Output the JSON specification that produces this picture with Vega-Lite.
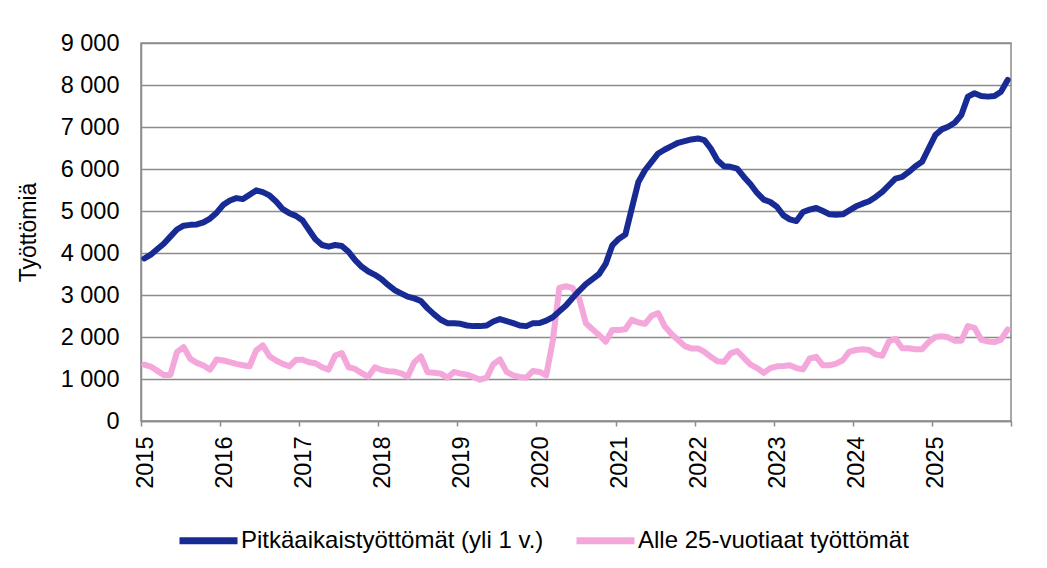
{
  "$schema": "https://vega.github.io/schema/vega-lite/v6.json",
  "width": 870,
  "height": 378,
  "autosize": {"type": "none"},
  "padding": {"left": 141, "top": 43, "right": 36, "bottom": 147},
  "background": "white",
  "config": {
    "font": "Liberation Sans",
    "locale": {"number": {"decimal": ",", "thousands": " ", "grouping": [3], "currency": ["", " €"]}},
    "view": {"stroke": "#8c8c8c", "strokeWidth": 1.5},
    "axisY": {
      "ticks": false,
      "domainColor": "#8c8c8c", "domainWidth": 1.5,
      "grid": true, "gridColor": "#8c8c8c", "gridWidth": 1.5,
      "labelFontSize": 23.5, "labelColor": "black", "labelPadding": 22,
      "titleFontSize": 23, "titleFontWeight": "normal", "titleColor": "black", "titlePadding": 20
    },
    "axisX": {
      "grid": false,
      "ticks": true,
      "tickSize": 5,
      "tickColor": "#8c8c8c",
      "tickWidth": 1.5,
      "domainColor": "#8c8c8c",
      "domainWidth": 1.5,
      "labelAngle": -90,
      "labelFontSize": 23.5,
      "labelColor": "black",
      "labelPadding": 10,
      "labelOffset": 4,
      "labelFlush": false,
      "labelOverlap": false
    },
    "legend": {
      "labelFontSize": 24, "labelColor": "black", "labelLimit": 0, "labelOffset": 0, "columnPadding": 18, "padding": 0,
      "symbolType": "stroke", "symbolSize": 3364, "symbolStrokeWidth": 7
    }
  },
  "data": {"values": [
    {"kk":"2015-01","pitka":3870,"alle25":1344},{"kk":"2015-02","pitka":3960,"alle25":1296},{"kk":"2015-03","pitka":4090,"alle25":1200},{"kk":"2015-04","pitka":4220,"alle25":1096},{"kk":"2015-05","pitka":4390,"alle25":1096},{"kk":"2015-06","pitka":4560,"alle25":1640},{"kk":"2015-07","pitka":4650,"alle25":1760},{"kk":"2015-08","pitka":4670,"alle25":1480},{"kk":"2015-09","pitka":4680,"alle25":1384},{"kk":"2015-10","pitka":4730,"alle25":1320},{"kk":"2015-11","pitka":4820,"alle25":1224},{"kk":"2015-12","pitka":4960,"alle25":1464},
    {"kk":"2016-01","pitka":5148,"alle25":1440},{"kk":"2016-02","pitka":5251,"alle25":1400},{"kk":"2016-03","pitka":5307,"alle25":1360},{"kk":"2016-04","pitka":5283,"alle25":1328},{"kk":"2016-05","pitka":5387,"alle25":1304},{"kk":"2016-06","pitka":5491,"alle25":1680},{"kk":"2016-07","pitka":5450,"alle25":1800},{"kk":"2016-08","pitka":5371,"alle25":1544},{"kk":"2016-09","pitka":5227,"alle25":1440},{"kk":"2016-10","pitka":5044,"alle25":1360},{"kk":"2016-11","pitka":4948,"alle25":1304},{"kk":"2016-12","pitka":4884,"alle25":1456},
    {"kk":"2017-01","pitka":4772,"alle25":1456},{"kk":"2017-02","pitka":4549,"alle25":1400},{"kk":"2017-03","pitka":4326,"alle25":1376},{"kk":"2017-04","pitka":4190,"alle25":1280},{"kk":"2017-05","pitka":4150,"alle25":1224},{"kk":"2017-06","pitka":4190,"alle25":1560},{"kk":"2017-07","pitka":4166,"alle25":1616},{"kk":"2017-08","pitka":4030,"alle25":1280},{"kk":"2017-09","pitka":3831,"alle25":1240},{"kk":"2017-10","pitka":3671,"alle25":1136},{"kk":"2017-11","pitka":3560,"alle25":1056},{"kk":"2017-12","pitka":3480,"alle25":1280},
    {"kk":"2018-01","pitka":3376,"alle25":1216},{"kk":"2018-02","pitka":3240,"alle25":1184},{"kk":"2018-03","pitka":3120,"alle25":1176},{"kk":"2018-04","pitka":3040,"alle25":1136},{"kk":"2018-05","pitka":2960,"alle25":1056},{"kk":"2018-06","pitka":2920,"alle25":1400},{"kk":"2018-07","pitka":2857,"alle25":1536},{"kk":"2018-08","pitka":2682,"alle25":1160},{"kk":"2018-09","pitka":2538,"alle25":1150},{"kk":"2018-10","pitka":2410,"alle25":1128},{"kk":"2018-11","pitka":2330,"alle25":1032},{"kk":"2018-12","pitka":2330,"alle25":1168},
    {"kk":"2019-01","pitka":2314,"alle25":1128},{"kk":"2019-02","pitka":2274,"alle25":1104},{"kk":"2019-03","pitka":2259,"alle25":1048},{"kk":"2019-04","pitka":2259,"alle25":984},{"kk":"2019-05","pitka":2274,"alle25":1032},{"kk":"2019-06","pitka":2370,"alle25":1352},{"kk":"2019-07","pitka":2426,"alle25":1464},{"kk":"2019-08","pitka":2378,"alle25":1168},{"kk":"2019-09","pitka":2330,"alle25":1088},{"kk":"2019-10","pitka":2274,"alle25":1048},{"kk":"2019-11","pitka":2259,"alle25":1032},{"kk":"2019-12","pitka":2330,"alle25":1192},
    {"kk":"2020-01","pitka":2333,"alle25":1168},{"kk":"2020-02","pitka":2390,"alle25":1088},{"kk":"2020-03","pitka":2470,"alle25":1900},{"kk":"2020-04","pitka":2610,"alle25":3168},{"kk":"2020-05","pitka":2750,"alle25":3208},{"kk":"2020-06","pitka":2930,"alle25":3168},{"kk":"2020-07","pitka":3100,"alle25":2928},{"kk":"2020-08","pitka":3260,"alle25":2328},{"kk":"2020-09","pitka":3380,"alle25":2184},{"kk":"2020-10","pitka":3500,"alle25":2048},{"kk":"2020-11","pitka":3740,"alle25":1888},{"kk":"2020-12","pitka":4180,"alle25":2168},
    {"kk":"2021-01","pitka":4340,"alle25":2168},{"kk":"2021-02","pitka":4440,"alle25":2184},{"kk":"2021-03","pitka":5060,"alle25":2408},{"kk":"2021-04","pitka":5690,"alle25":2344},{"kk":"2021-05","pitka":5970,"alle25":2312},{"kk":"2021-06","pitka":6170,"alle25":2504},{"kk":"2021-07","pitka":6370,"alle25":2568},{"kk":"2021-08","pitka":6465,"alle25":2248},{"kk":"2021-09","pitka":6545,"alle25":2072},{"kk":"2021-10","pitka":6624,"alle25":1928},{"kk":"2021-11","pitka":6664,"alle25":1784},{"kk":"2021-12","pitka":6704,"alle25":1728},
    {"kk":"2022-01","pitka":6728,"alle25":1728},{"kk":"2022-02","pitka":6688,"alle25":1648},{"kk":"2022-03","pitka":6489,"alle25":1528},{"kk":"2022-04","pitka":6210,"alle25":1424},{"kk":"2022-05","pitka":6067,"alle25":1408},{"kk":"2022-06","pitka":6051,"alle25":1610},{"kk":"2022-07","pitka":6011,"alle25":1667},{"kk":"2022-08","pitka":5812,"alle25":1504},{"kk":"2022-09","pitka":5637,"alle25":1341},{"kk":"2022-10","pitka":5430,"alle25":1260},{"kk":"2022-11","pitka":5271,"alle25":1146},{"kk":"2022-12","pitka":5215,"alle25":1260},
    {"kk":"2023-01","pitka":5096,"alle25":1301},{"kk":"2023-02","pitka":4896,"alle25":1309},{"kk":"2023-03","pitka":4801,"alle25":1325},{"kk":"2023-04","pitka":4761,"alle25":1260},{"kk":"2023-05","pitka":4976,"alle25":1228},{"kk":"2023-06","pitka":5032,"alle25":1488},{"kk":"2023-07","pitka":5072,"alle25":1528},{"kk":"2023-08","pitka":5000,"alle25":1325},{"kk":"2023-09","pitka":4920,"alle25":1325},{"kk":"2023-10","pitka":4912,"alle25":1366},{"kk":"2023-11","pitka":4920,"alle25":1447},{"kk":"2023-12","pitka":5016,"alle25":1650},
    {"kk":"2024-01","pitka":5111,"alle25":1691},{"kk":"2024-02","pitka":5175,"alle25":1707},{"kk":"2024-03","pitka":5231,"alle25":1691},{"kk":"2024-04","pitka":5334,"alle25":1585},{"kk":"2024-05","pitka":5454,"alle25":1553},{"kk":"2024-06","pitka":5613,"alle25":1894},{"kk":"2024-07","pitka":5772,"alle25":1959},{"kk":"2024-08","pitka":5812,"alle25":1732},{"kk":"2024-09","pitka":5931,"alle25":1732},{"kk":"2024-10","pitka":6067,"alle25":1707},{"kk":"2024-11","pitka":6170,"alle25":1707},{"kk":"2024-12","pitka":6489,"alle25":1878},
    {"kk":"2025-01","pitka":6807,"alle25":2000},{"kk":"2025-02","pitka":6943,"alle25":2016},{"kk":"2025-03","pitka":7006,"alle25":1992},{"kk":"2025-04","pitka":7102,"alle25":1911},{"kk":"2025-05","pitka":7285,"alle25":1911},{"kk":"2025-06","pitka":7723,"alle25":2260},{"kk":"2025-07","pitka":7803,"alle25":2219},{"kk":"2025-08","pitka":7739,"alle25":1935},{"kk":"2025-09","pitka":7723,"alle25":1894},{"kk":"2025-10","pitka":7739,"alle25":1878},{"kk":"2025-11","pitka":7842,"alle25":1935},{"kk":"2025-12","pitka":8121,"alle25":2179}
  ]},
  "encoding": {
    "x": {
      "field": "kk",
      "type": "temporal",
      "timeUnit": "utcyearmonth",
      "bandPosition": 0.5,
      "scale": {"type": "utc", "domain": [{"year": 2015, "month": 1, "date": 1, "utc": true}, {"year": 2026, "month": 1, "date": 1, "utc": true}]},
      "axis": {
        "title": null,
        "values": [{"year":2015,"utc":true},{"year":2016,"utc":true},{"year":2017,"utc":true},{"year":2018,"utc":true},{"year":2019,"utc":true},{"year":2020,"utc":true},{"year":2021,"utc":true},{"year":2022,"utc":true},{"year":2023,"utc":true},{"year":2024,"utc":true},{"year":2025,"utc":true},{"year":2026,"utc":true}],
        "format": "%Y",
        "labelExpr": "utcyear(datum.value) >= 2026 ? '' : datum.label"
      }
    }
  },
  "layer": [
    {
      "mark": {"type": "line", "strokeWidth": 6, "strokeCap": "round", "strokeJoin": "round"},
      "encoding": {
        "y": {
          "field": "alle25", "type": "quantitative",
          "scale": {"domain": [0, 9000]},
          "axis": {"title": "Työttömiä", "titleFontSize": 23, "titlePadding": 20, "values": [0,1000,2000,3000,4000,5000,6000,7000,8000,9000], "format": ",d"}
        },
        "color": {
          "datum": "Alle 25-vuotiaat työttömät",
          "type": "nominal",
          "scale": {"domain": ["Pitkäaikaistyöttömät (yli 1 v.)", "Alle 25-vuotiaat työttömät"], "range": ["#182B94", "#F4A7DB"]},
          "legend": {"title": null, "orient": "none", "legendX": 35, "legendY": 465, "direction": "horizontal"}
        }
      }
    },
    {
      "mark": {"type": "line", "strokeWidth": 6, "strokeCap": "round", "strokeJoin": "round"},
      "encoding": {
        "y": {"field": "pitka", "type": "quantitative", "scale": {"domain": [0, 9000]}, "axis": {"title": "Työttömiä", "titleFontSize": 23, "titlePadding": 20, "values": [0,1000,2000,3000,4000,5000,6000,7000,8000,9000], "format": ",d"}},
        "color": {"datum": "Pitkäaikaistyöttömät (yli 1 v.)", "type": "nominal"}
      }
    }
  ]
}
